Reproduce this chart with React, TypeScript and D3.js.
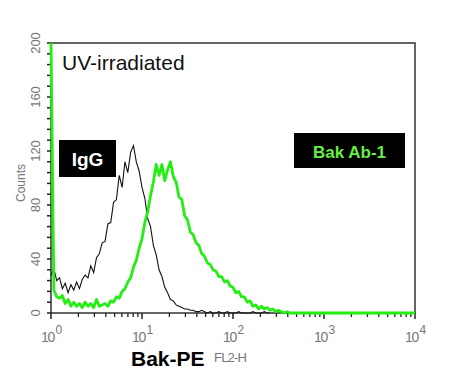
import React from 'react';
import * as d3 from 'd3';

// histogram bins, 32 per decade, starting at 10^0
const binsPerDecade = 32;
const igg = [
  28, 33, 24, 26, 18, 22, 15, 21, 17, 23, 18, 25, 28, 26, 35, 30, 41, 44, 52, 53,
  66, 67, 82, 84, 102, 93, 112, 104, 119, 124, 112, 105, 93, 85, 70, 64, 50, 43, 32, 27,
  19, 15, 10, 9, 6, 5, 4, 3, 3, 2, 2, 1, 1, 2, 1, 0, 1, 0, 0, 1,
  0, 0, 1, 0, 0, 0, 1, 0, 0, 0, 0, 1, 0, 0, 0, 1, 0, 0,
];
const bakAb1 = [
  200, 17, 12, 11, 13, 7, 10, 5, 8, 5, 7, 4, 8, 5, 7, 4, 10, 5, 6, 7,
  5, 9, 8, 12, 11, 16, 18, 23, 26, 34, 39, 48, 55, 67, 75, 87, 97, 110, 102, 110,
  98, 106, 112, 101, 97, 86, 84, 72, 69, 60, 58, 52, 50, 44, 42, 37, 36, 32, 31, 27,
  27, 23, 24, 20, 19, 15, 16, 12, 12, 8, 9, 5, 6, 3, 5, 3, 4, 2, 3, 1,
  2, 1, 0, 1, 0, 0, 0, 0, 0, 0, 0, 0, 0, 0, 0, 0, 0, 0, 0, 0,
  0, 0, 0, 0, 0, 0, 0, 0, 0, 0, 0, 0, 0, 0, 0, 0, 0, 0, 0, 0,
  0, 0, 0, 0, 0, 0, 0, 0, 0,
];
const yTickLabels = [0, 40, 80, 120, 160, 200];
const xDecades = [0, 1, 2, 3, 4];

const left = 51, right = 415, top = 43, bottom = 313;
const font = 'Liberation Sans, Arial, sans-serif';

export default function App() {
  const x = d3.scaleLog().domain([1, 1e4]).range([left, right]);
  const y = d3.scaleLinear().domain([0, 200]).range([bottom, top]);

  const binX = (i: number) => x(Math.pow(10, i / binsPerDecade));
  const line = d3
    .line<number>()
    .x((d, i) => binX(i))
    .y((d) => y(Math.min(d, 200)));

  const minorY = d3.range(0, 201, 8);
  const minorX: number[] = [];
  for (let k = 0; k < 4; k++) {
    for (let m = 2; m <= 9; m++) minorX.push(m * Math.pow(10, k));
  }

  return (
    <svg
      width={456}
      height={376}
      style={{ position: 'absolute', left: 0, top: 0, background: '#fff' }}
      fontFamily={font}
    >
      <rect width={456} height={376} fill="#fff" />

      {/* frame */}
      <rect x={left} y={top} width={right - left} height={bottom - top} fill="none" stroke="#333" strokeWidth={1.5} />

      {/* y ticks */}
      {minorY.map((v) => (
        <line key={'yt' + v} x1={left - 4} x2={left} y1={y(v)} y2={y(v)} stroke="#222" strokeWidth={1.5} />
      ))}
      {yTickLabels.map((v) => (
        <text
          key={'yl' + v}
          transform={`translate(40,${y(v)}) rotate(-90)`}
          textAnchor="middle"
          fontSize={13}
          fill="#777"
        >
          {v}
        </text>
      ))}
      <text transform="translate(25,183) rotate(-90)" textAnchor="middle" fontSize={12} fill="#777">
        Counts
      </text>

      {/* x ticks */}
      {minorX.map((v, i) => (
        <line key={'xm' + i} x1={x(v)} x2={x(v)} y1={bottom} y2={bottom + 4} stroke="#222" strokeWidth={1.3} />
      ))}
      {xDecades.map((k) => (
        <g key={'xd' + k}>
          <line x1={x(Math.pow(10, k))} x2={x(Math.pow(10, k))} y1={bottom} y2={bottom + 6} stroke="#222" strokeWidth={1.5} />
          <text x={x(Math.pow(10, k)) - 10} y={342} fontSize={14} fill="#777" letterSpacing={-1.3}>
            10
            <tspan dy={-8} dx={1.5} fontSize={12}>
              {k}
            </tspan>
          </text>
        </g>
      ))}

      {/* histograms */}
      <path d={line(igg) || ''} fill="none" stroke="#111" strokeWidth={1.1} />
      <path d={line(bakAb1) || ''} fill="none" stroke="#22ee11" strokeWidth={2.8} strokeLinejoin="round" />

      {/* annotations */}
      <text x={62} y={70} fontSize={21} fill="#111">
        UV-irradiated
      </text>
      <rect x={59} y={140} width={57} height={37} fill="#000" />
      <text x={87.5} y={166} textAnchor="middle" fontSize={19} fontWeight="bold" fill="#fff">
        IgG
      </text>
      <rect x={294} y={133} width={111} height={35} fill="#000" />
      <text x={349.5} y={158} textAnchor="middle" fontSize={17} fontWeight="bold" fill="#66ee44">
        Bak Ab-1
      </text>

      {/* x axis title */}
      <text x={131} y={366} fontSize={21} fontWeight="bold" fill="#000">
        Bak-PE
      </text>
      <text x={214} y={362} fontSize={13} fill="#777" letterSpacing={-0.8}>
        FL2-H
      </text>
    </svg>
  );
}
